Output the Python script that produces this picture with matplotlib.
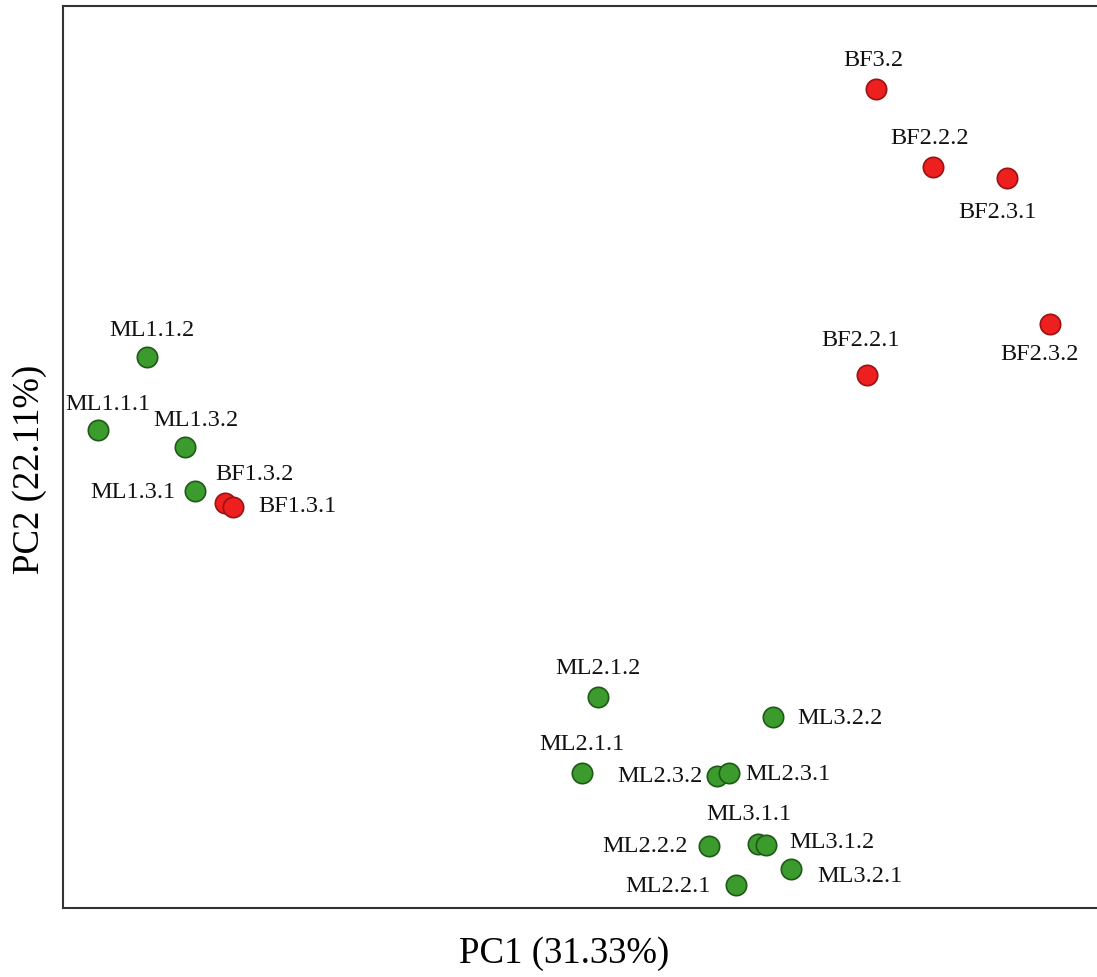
import matplotlib.pyplot as plt

plt.rcParams['font.family'] = ['Liberation Serif', 'DejaVu Serif']

# PCA scores per sample
samples = ['BF3.2', 'BF2.2.2', 'BF2.3.1', 'BF2.3.2', 'BF2.2.1',
           'ML1.1.2', 'ML1.1.1', 'ML1.3.2', 'ML1.3.1', 'BF1.3.2', 'BF1.3.1',
           'ML2.1.2', 'ML3.2.2', 'ML2.1.1', 'ML2.3.2', 'ML2.3.1',
           'ML2.2.2', 'ML3.1.1', 'ML3.1.2', 'ML3.2.1', 'ML2.2.1']
pc1 = [5.92, 7.06, 8.54, 9.40, 5.74,
       -8.66, -9.64, -7.90, -7.70, -7.10, -6.94,
       0.36, 3.86, 0.04, 2.74, 2.98,
       2.58, 3.56, 3.72, 4.22, 3.12]
pc2 = [8.62, 7.06, 6.84, 3.92, 2.90,
       3.26, 1.80, 1.46, 0.58, 0.34, 0.26,
       -3.54, -3.94, -5.06, -5.12, -5.06,
       -6.52, -6.48, -6.50, -6.98, -7.30]
groups = ['BF'] * 5 + ['ML'] * 4 + ['BF'] * 2 + ['ML'] * 10

# label offsets from the point, in pixels
label_offsets = [(-3, 29), (-3, 29), (-10, -34), (-10, -30), (-6, 35),
                 (5, 26), (10, 26), (11, 26), (-62, -2), (29, 29), (64, 0),
                 (0, 29), (67, -1), (0, 28), (-57, -1), (59, -2),
                 (-64, 0), (-9, 29), (66, 2), (69, -8), (-68, -1)]

colors = {'ML': ('#3b9b2c', '#1e5a17'), 'BF': ('#ee1f1f', '#9a1212')}

fig = plt.figure(figsize=(10.97, 9.77), dpi=100)
ax = fig.add_axes([63 / 1097, 69 / 977, 1 - 63 / 1097, 902 / 977])

for g in ['ML', 'BF']:
    xs = [x for x, gg in zip(pc1, groups) if gg == g]
    ys = [y for y, gg in zip(pc2, groups) if gg == g]
    ax.scatter(xs, ys, s=215, c=colors[g][0], edgecolors=colors[g][1],
               linewidths=1.2, zorder=3)

for name, x, y, off in zip(samples, pc1, pc2, label_offsets):
    ax.annotate(name, (x, y), xytext=off, textcoords='offset pixels',
                ha='center', va='center', fontsize=17.5, color='#111111')

ax.set_xlim(-10.34, 10.34)
ax.set_ylim(-7.76, 10.28)
ax.set_xticks([])
ax.set_yticks([])
ax.spines['right'].set_visible(False)
for side in ['left', 'top', 'bottom']:
    ax.spines[side].set_linewidth(1.5)
    ax.spines[side].set_color('#333333')

ax.set_xlabel('PC1 (31.33%)', fontsize=26.5)
ax.set_ylabel('PC2 (22.11%)', fontsize=26.5)
ax.xaxis.set_label_coords(0.485, -0.032)
ax.yaxis.set_label_coords(-0.015, 0.486)

fig.savefig('out.png', dpi=100)
